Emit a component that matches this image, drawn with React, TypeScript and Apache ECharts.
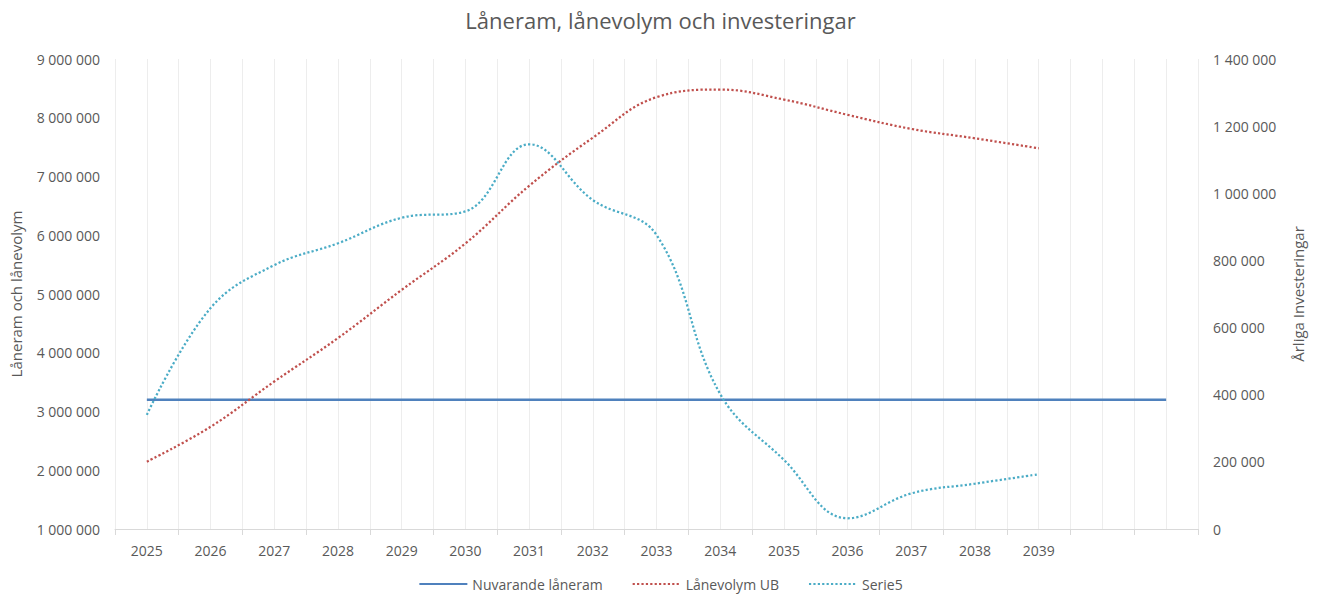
import React, { useEffect, useRef } from "react";
import * as echarts from "echarts";

const years = ["2025", "2026", "2027", "2028", "2029", "2030", "2031", "2032", "2033", "2034", "2035", "2036", "2037", "2038", "2039", "", ""];
const laneram = [3200000, 3200000, 3200000, 3200000, 3200000, 3200000, 3200000, 3200000, 3200000, 3200000, 3200000, 3200000, 3200000, 3200000, 3200000, 3200000, 3200000];
const lanevolym = [2146000, 2740000, 3510000, 4250000, 5070000, 5860000, 6840000, 7660000, 8350000, 8480000, 8310000, 8050000, 7810000, 7650000, 7480000];
const serie5 = [340000, 658000, 786000, 851000, 927000, 946000, 1146000, 980000, 876000, 402000, 206000, 32000, 106000, 135000, 163000];

const FONT = "'Open Sans', 'Noto Sans', sans-serif";
const TXT = "#595959";

const fmt = (v: number) => String(v).replace(/\B(?=(\d{3})+(?!\d))/g, " ");

export default function App() {
  const ref = useRef<HTMLDivElement>(null);
  useEffect(() => {
    document.body.style.margin = "0";
    const chart = echarts.init(ref.current!, null, { renderer: "svg" });
    chart.setOption({
      animation: false,
      backgroundColor: "#ffffff",
      textStyle: { fontFamily: FONT, color: TXT },
      title: {
        text: "Låneram, lånevolym och investeringar",
        left: "center",
        top: 4,
        textStyle: { fontFamily: FONT, fontSize: 22, fontWeight: "normal", color: TXT },
      },
      legend: {
        bottom: 2,
        left: "center",
        itemWidth: 48,
        itemHeight: 10,
        itemGap: 29,
        itemStyle: { color: "transparent", borderColor: "transparent", borderWidth: 0 },
        textStyle: { fontFamily: FONT, fontSize: 14, color: TXT },
        data: ["Nuvarande låneram", "Lånevolym UB", "Serie5"],
      },
      grid: { left: 115, right: 123, top: 59, bottom: 69, containLabel: false },
      xAxis: [
        {
          type: "category",
          data: years,
          boundaryGap: true,
          axisLine: { show: true, lineStyle: { color: "#D9D9D9", width: 1 } },
          axisTick: { show: true, length: 6, lineStyle: { color: "#D9D9D9" } },
          axisLabel: { fontFamily: FONT, fontSize: 14, color: TXT, margin: 14, interval: 0 },
          splitLine: { show: false },
        },
        {
          type: "value",
          min: 0,
          max: 34,
          interval: 1,
          position: "top",
          axisLine: { show: false },
          axisTick: { show: false },
          axisLabel: { show: false },
          splitLine: { show: true, lineStyle: { color: "#EDEDED", width: 1 } },
        },
      ],
      yAxis: [
        {
          type: "value",
          min: 1000000,
          max: 9000000,
          interval: 1000000,
          name: "Låneram och lånevolym",
          nameLocation: "middle",
          nameRotate: 90,
          nameGap: 92,
          nameTextStyle: { fontFamily: FONT, fontSize: 15, color: TXT },
          axisLine: { show: false },
          axisTick: { show: false },
          axisLabel: { fontFamily: FONT, fontSize: 14, color: TXT, margin: 15, formatter: fmt },
          splitLine: { show: false },
        },
        {
          type: "value",
          min: 0,
          max: 1400000,
          interval: 200000,
          name: "Årliga Investeringar",
          nameLocation: "middle",
          nameRotate: 90,
          nameGap: 92,
          nameTextStyle: { fontFamily: FONT, fontSize: 15, color: TXT },
          axisLine: { show: false },
          axisTick: { show: false },
          axisLabel: { fontFamily: FONT, fontSize: 14, color: TXT, margin: 15, formatter: fmt },
          splitLine: { show: false },
        },
      ],
      series: [
        {
          name: "Nuvarande låneram",
          type: "line",
          xAxisIndex: 0,
          yAxisIndex: 0,
          data: laneram,
          symbol: "none",
          color: "#4F81BD",
          lineStyle: { color: "#4F81BD", width: 2.5, type: "solid" },
        },
        {
          name: "Lånevolym UB",
          type: "line",
          xAxisIndex: 0,
          yAxisIndex: 0,
          data: lanevolym,
          symbol: "none",
          smooth: 0.4,
          color: "#C0504D",
          lineStyle: { color: "#C0504D", width: 2.25, type: [2.2, 2.2] },
        },
        {
          name: "Serie5",
          type: "line",
          xAxisIndex: 0,
          yAxisIndex: 1,
          data: serie5,
          symbol: "none",
          smooth: 0.4,
          color: "#4BACC6",
          lineStyle: { color: "#4BACC6", width: 2.25, type: [2.2, 2.2] },
        },
      ],
    });
    return () => chart.dispose();
  }, []);
  return <div ref={ref} style={{ width: 1321, height: 598 }} />;
}
